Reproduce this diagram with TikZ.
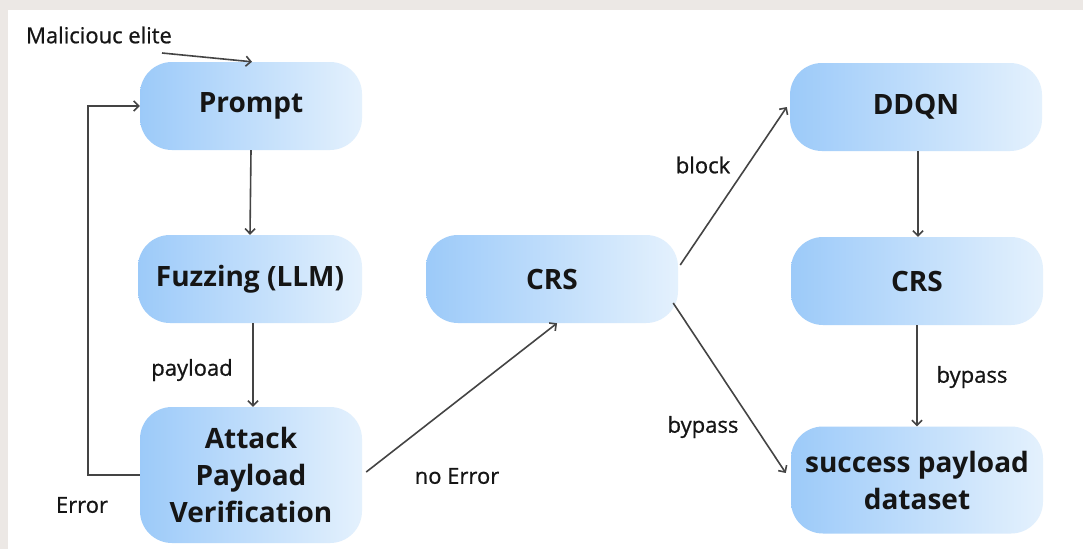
\documentclass[tikz,border=0pt]{standalone}
\usepackage{fontspec}
\setmainfont{Open Sans}
\newfontfamily\tagfont{Open Sans}[FakeBold=0.8]
\usepackage{tikz}
\usetikzlibrary{arrows.meta,positioning,calc}
\definecolor{boxleft}{HTML}{9CCAF9}
\definecolor{boxright}{HTML}{E4F1FD}
\definecolor{framegrey}{HTML}{ECE8E5}
\definecolor{linegrey}{HTML}{444444}
\definecolor{inkblack}{HTML}{151515}

\tikzset{
  stage/.style={rounded corners=32pt, left color=boxleft, right color=boxright,
    minimum width=222pt, minimum height=88pt, align=center, text=inkblack,
    font=\fontsize{28}{37}\selectfont\bfseries},
  flow/.style={draw=linegrey, line width=1.6pt, -{Straight Barb[length=5pt,width=10pt]}},
  tag/.style={text=inkblack, font=\tagfont\fontsize{22}{26}\selectfont}
}

\begin{document}
\begin{tikzpicture}[x=1pt,y=-1pt]
  % frame
  \fill[framegrey] (0,0) rectangle (1083,549);
  \fill[white] (8,10) rectangle (1083,549);
  \useasboundingbox (0,0) rectangle (1083,549);

  % left column
  \node[stage] (prompt) at (251,106) {Prompt};
  \node[stage, minimum width=224pt] (fuzz) at (250,279) {Fuzzing (LLM)};
  \node[stage, minimum height=136pt] (attack) at (251,475) {Attack\\Payload\\Verification};

  % middle
  \node[stage, minimum width=252pt] (crs) at (552,279) {CRS};

  % right column
  \node[stage, minimum width=252pt] (ddqn) at (916,107) {DDQN};
  \node[stage, minimum width=252pt] (crsb) at (917,281) {CRS};
  \node[stage, minimum width=252pt, minimum height=107pt] (succ) at (917,480) {success payload\\dataset};

  % labels
  \node[tag] (mal) at (99,35) {Maliciouc elite};
  \node[tag] (pay) at (192,370) {payload};
  \node[tag] (err) at (82,505) {Error};
  \node[tag] (noerr) at (457,476) {no Error};
  \node[tag] (blk) at (703,165) {block};
  \node[tag] (byp) at (703,427) {bypass};
  \node[tag] (bypb) at (972,377) {bypass};

  % connectors
  \coordinate (malstart) at (162,53);
  \draw[flow] (malstart) -- ([xshift=1pt]prompt.north);
  \draw[flow] (prompt.south) -- (fuzz.south |- fuzz.north);
  \draw[flow] ([xshift=3pt]fuzz.south) -- ([xshift=2pt]attack.north);
  \draw[flow] (attack.west) -- ++(-52,0) |- (prompt.west);
  \draw[flow] ([xshift=4pt,yshift=3pt]attack.east) -- ([xshift=5pt]crs.south);
  \draw[flow] ([xshift=2pt,yshift=14pt]crs.east) -- ([xshift=-3pt]ddqn.west);
  \draw[flow] ([xshift=-5pt,yshift=-24pt]crs.east) -- ([xshift=-5pt,yshift=7pt]succ.west);
  \draw[flow] ([xshift=2pt]ddqn.south) -- ([xshift=1pt]crsb.north);
  \draw[flow] (crsb.south) -- (succ.north);
\end{tikzpicture}
\end{document}
